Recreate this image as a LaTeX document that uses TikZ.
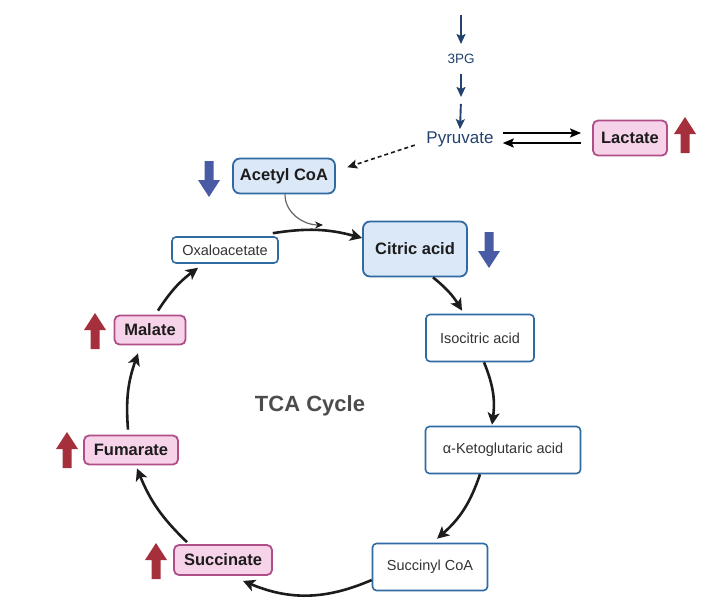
\documentclass[tikz,border=0pt]{standalone}
\usepackage{fontspec}
\setmainfont{Liberation Sans}
\usepackage{tikz}
\usetikzlibrary{arrows.meta}
\definecolor{boxblue}{HTML}{2F6AA3}
\definecolor{lightblue}{HTML}{DAE8F7}
\definecolor{pinkfill}{HTML}{F7D3EA}
\definecolor{pinkline}{HTML}{B04E88}
\definecolor{navy}{HTML}{23426E}
\definecolor{nearblack}{HTML}{1C1C1C}
\definecolor{upred}{HTML}{A5303C}
\definecolor{downblue}{HTML}{4A5BA6}
\colorlet{tcagray}{black!70}

\tikzset{
  bluebox/.style={draw=boxblue, fill=lightblue, line width=1.8pt, rounded corners=7pt,
    text=nearblack, font=\bfseries\fontsize{16.5}{19}\selectfont},
  whitebox/.style={draw=boxblue, fill=white, line width=1.6pt, rounded corners=4pt,
    text=nearblack!90, font=\fontsize{14.5}{17}\selectfont},
  pinkbox/.style={draw=pinkline, fill=pinkfill, line width=1.8pt, rounded corners=5pt,
    text=nearblack, font=\bfseries\fontsize{16.5}{19}\selectfont},
  flow/.style={-{Stealth[length=12pt,width=12pt,inset=3pt]}, line width=2.6pt, nearblack},
  feed/.style={-{Stealth[length=10pt,width=9pt,inset=2pt]}, line width=1.9pt, navy},
  fatdown/.pic={\fill (-4.5,0) -- (-4.5,19) -- (-11,19) -- (0,36) -- (11,19) -- (4.5,19) -- (4.5,0) -- cycle;},
  fatup/.pic={\fill (-4.5,36) -- (-4.5,17) -- (-11,17) -- (0,0) -- (11,17) -- (4.5,17) -- (4.5,36) -- cycle;}
}

\begin{document}
\begin{tikzpicture}[x=1pt, y=-1pt]
      \useasboundingbox (0,0) rectangle (727,599);

      % glycolysis side
      \coordinate (in) at (461,15);
      \coordinate (mid) at (461,100);
      \node[inner xsep=2pt, inner ysep=10pt, text=navy, font=\fontsize{13.5}{16}\selectfont] (pg) at (461,59) {3PG};
      \node[inner sep=2pt, text=navy, font=\fontsize{17}{20}\selectfont] (pyr) at (460,139) {Pyruvate};
      \node[pinkbox, minimum width=74pt, minimum height=35pt] (lact) at (630,138) {Lactate};

      \draw[feed] (in) -- (pg.north);
      \draw[feed, shorten >=3pt] (pg.south) -- (mid);
      \draw[feed, shorten <=4pt] (mid) -- (pyr.north);

      \draw[-{Stealth[length=11pt,width=9pt,inset=2pt]}, line width=1.9pt, shorten <=7pt, shorten >=11pt]
        ([yshift=6pt]pyr.east) -- ([yshift=5pt]lact.west);
      \draw[-{Stealth[length=11pt,width=9pt,inset=2pt]}, line width=1.9pt, shorten <=11pt, shorten >=7pt]
        ([yshift=-5pt]lact.west) -- ([yshift=-4pt]pyr.east);

      % cycle
      \node[bluebox, minimum width=102pt, minimum height=35pt] (acoa) at (284,176) {Acetyl CoA};
      \node[whitebox, minimum width=106pt, minimum height=26pt] (oxa) at (225,250) {Oxaloacetate};
      \node[bluebox, minimum width=104pt, minimum height=55pt] (cit) at (415,249) {Citric acid};
      \node[whitebox, minimum width=108pt, minimum height=47pt] (iso) at (480,338) {Isocitric acid};
      \node[whitebox, minimum width=155pt, minimum height=47pt] (akg) at (503,450) {α-Ketoglutaric acid};
      \node[whitebox, minimum width=115pt, minimum height=47pt] (sucoa) at (430,567) {Succinyl CoA};
      \node[pinkbox, minimum width=98pt, minimum height=30pt] (succ) at (223,560) {Succinate};
      \node[pinkbox, minimum width=94pt, minimum height=29pt] (fum) at (131,450) {Fumarate};
      \node[pinkbox, minimum width=71pt, minimum height=29pt] (mal) at (150,330) {Malate};
      \node[text=tcagray, font=\bfseries\fontsize{22}{26}\selectfont] (tca) at (310,406) {TCA Cycle};

      \draw[dash pattern=on 4pt off 3pt, line width=1.6pt, nearblack, -{Stealth[length=10pt,width=9pt,inset=2pt]},
        shorten <=10pt, shorten >=12pt] ([yshift=-3pt]pyr.west) -- ([yshift=5pt]acoa.east);

      \coordinate (join) at (323,225);
      \draw[black!60, line width=1.2pt, -{Stealth[length=8pt,width=7pt,color=nearblack]}]
        ([xshift=1pt]acoa.south) to[out=-90, in=180] (join);

      \draw[flow] ([xshift=-6pt,yshift=3pt]oxa.north east) to[bend left=12] ([yshift=11pt]cit.west);
      \draw[flow] ([xshift=18pt]cit.south) to[bend left=10] ([xshift=-18pt,yshift=3pt]iso.north);
      \draw[flow] ([xshift=4pt]iso.south) to[bend left=15] ([xshift=-11pt,yshift=1pt]akg.north);
      \draw[flow] ([xshift=-23pt]akg.south) to[bend left=15] ([xshift=7pt,yshift=4pt]sucoa.north);
      \draw[flow] ([yshift=-13pt]sucoa.west) to[bend left=23] ([xshift=20pt,yshift=-5pt]succ.south);
      \draw[flow] ([xshift=-36pt,yshift=2pt]succ.north) to[bend left=12] ([xshift=6pt,yshift=-3pt]fum.south);
      \draw[flow] ([xshift=-3pt,yshift=5pt]fum.north) to[bend left=12] ([xshift=-12pt,yshift=-8pt]mal.south);
      \draw[flow] ([xshift=8pt,yshift=4pt]mal.north) to[bend left=10] ([xshift=-27pt,yshift=-4pt]oxa.south);

      % up / down markers
      \pic[fill=downblue] at (209,161) {fatdown};
      \pic[fill=downblue] at (489,232) {fatdown};
      \pic[fill=upred] at (685,117) {fatup};
      \pic[fill=upred] at (95,313) {fatup};
      \pic[fill=upred] at (67,432) {fatup};
      \pic[fill=upred] at (156,543) {fatup};

    \end{tikzpicture}
\end{document}
